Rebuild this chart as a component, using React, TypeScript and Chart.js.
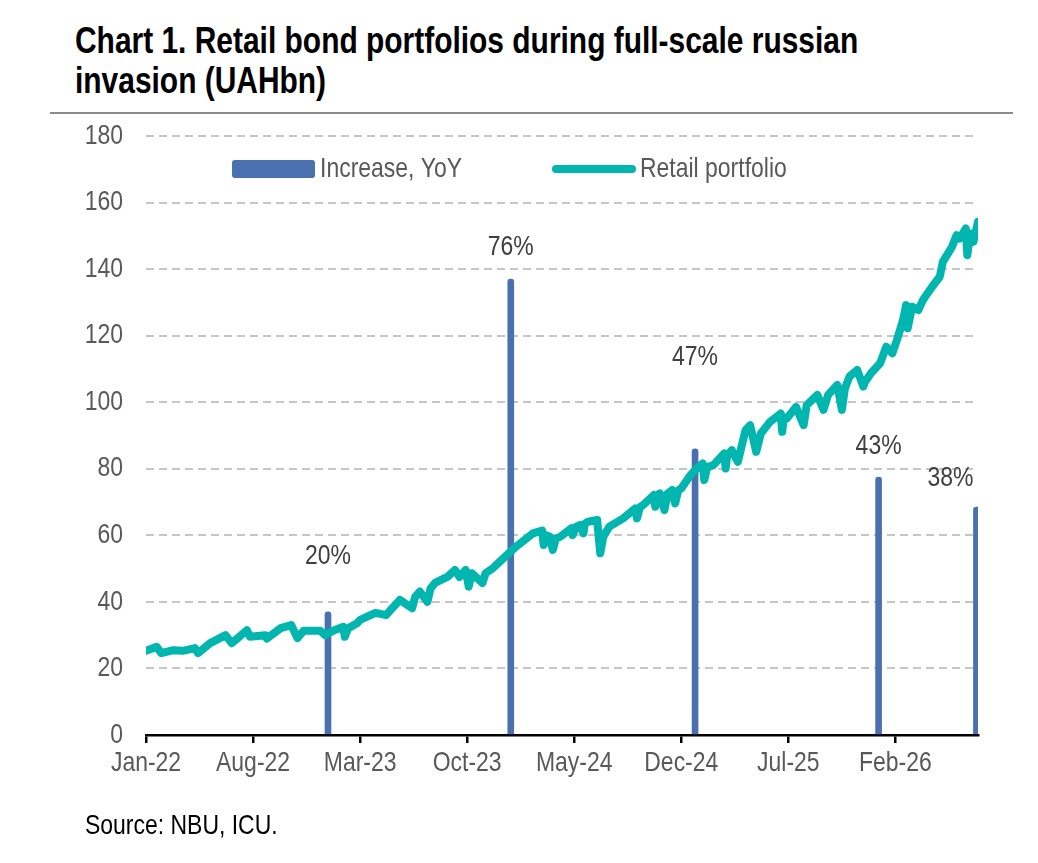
import React, { useEffect, useRef } from "react";
import { Chart, registerables } from "chart.js";

Chart.register(...registerables);

// ---------- data ----------
const xTickMonths = [0, 7, 14, 21, 28, 35, 42, 49];
const xTickLabels = ["Jan-22", "Aug-22", "Mar-23", "Oct-23", "May-24", "Dec-24", "Jul-25", "Feb-26"];

const barMonths = [11.9, 23.85, 35.9, 47.9, 54.3];
const barValues = [37, 137, 86, 77.5, 68.5];
const barLabels = ["20%", "76%", "47%", "43%", "38%"];

const lineMonths = [
  0.0, 0.7, 1.0, 1.8, 2.4, 3.2, 3.4, 4.2, 5.2, 5.6, 6.1, 6.6, 6.8, 7.8, 7.9, 8.8, 9.5, 9.9, 10.3, 11.4,
  11.7, 12.3, 12.9, 13.0, 13.2, 13.8, 14.0, 15.0, 15.7, 16.1, 16.6, 17.4, 17.6, 17.9, 18.4, 18.6, 18.9, 19.7,
  20.2, 20.5, 20.9, 21.1, 21.3, 22.0, 22.2, 22.7, 23.6, 24.2, 25.3, 25.9, 26.0, 26.2, 26.4, 26.6, 26.8, 27.1,
  27.8, 27.9, 28.1, 28.4, 28.6, 28.7, 28.9, 29.5, 29.7, 29.9, 30.3, 31.2, 32.0, 32.1, 32.3, 32.5, 33.2, 33.3,
  33.4, 33.6, 33.9, 34.1, 34.4, 34.6, 34.8, 35.0, 35.6, 35.9, 36.4, 36.5, 36.7, 37.1, 37.8, 37.9, 38.0, 38.3,
  38.7, 39.2, 39.5, 39.9, 40.2, 40.8, 41.5, 41.6, 41.7, 41.9, 42.5, 43.0, 43.2, 43.9, 44.3, 44.6, 45.2, 45.5,
  45.7, 46.0, 46.5, 46.9, 47.0, 47.4, 48.0, 48.4, 48.8, 49.1, 49.5, 49.7, 49.8, 50.1, 50.5, 50.8, 51.4, 51.9,
  52.1, 52.7, 53.0, 53.2, 53.6, 53.7, 53.9, 54.1, 54.4,
];
const lineValues = [
  25.3, 26.5, 24.6, 25.5, 25.3, 26.1, 24.6, 27.6, 30.0, 27.6, 29.5, 31.5, 29.5, 30.0, 29.0, 32.1, 33.0, 29.1, 31.3, 31.3,
  30.0, 31.5, 32.5, 29.5, 32.0, 33.6, 34.6, 36.7, 36.0, 38.1, 40.6, 38.1, 41.5, 43.1, 40.0, 44.0, 45.7, 47.5,
  49.6, 47.5, 49.6, 44.6, 48.6, 45.7, 48.6, 50.2, 54.1, 56.6, 60.6, 61.4, 57.1, 60.0, 59.6, 55.6, 59.0, 59.6,
  62.1, 60.1, 62.5, 63.1, 60.6, 63.5, 64.1, 64.6, 54.6, 59.6, 62.6, 65.1, 68.1, 65.1, 68.5, 69.1, 72.1, 68.6,
  72.0, 72.6, 67.6, 72.5, 73.6, 69.6, 73.5, 74.1, 78.1, 79.6, 81.6, 76.6, 80.5, 81.1, 84.6, 80.1, 84.0, 85.6,
  82.1, 91.6, 93.1, 85.1, 90.6, 94.1, 96.6, 91.1, 95.5, 95.1, 98.6, 93.1, 99.1, 102.2, 97.7, 102.2, 105.2, 97.7,
  104.2, 107.7, 109.7, 104.7, 106.0, 108.7, 111.7, 116.7, 114.7, 118.7, 124.7, 129.2, 122.2, 128.7, 127.7, 130.7, 134.7, 137.7,
  142.2, 146.7, 150.2, 149.2, 152.2, 144.2, 150.7, 148.2, 154.2,
];

// ---------- style ----------
const BAR_COLOR = "#4A70B0";
const LINE_COLOR = "#00B6AE";
const FONT_FAMILY = "'Liberation Sans', Arial, sans-serif";
const NARROW = 0.82;
const TEXT_GRAY = "#595959";
const labelOffsetsX = [0, 0, 0, 0, -26];
const labelOffsetsY = [-56, -32, -92, -31, -29];

function drawNarrow(
  ctx: CanvasRenderingContext2D,
  text: string,
  x: number,
  y: number,
  align: CanvasTextAlign,
  color: string,
  size = 28
) {
  ctx.save();
  ctx.translate(x, y);
  ctx.scale(NARROW, 1);
  ctx.font = `${size}px ${FONT_FAMILY}`;
  ctx.fillStyle = color;
  ctx.textAlign = align;
  ctx.textBaseline = "middle";
  ctx.fillText(text, 0, 0);
  ctx.restore();
}

const overlayPlugin = {
  id: "overlay",
  afterDraw(chart: any) {
    const ctx = chart.ctx as CanvasRenderingContext2D;
    ctx.save();
    // axis tick labels
    const xs = chart.scales.x;
    const ys = chart.scales.y;
    xs.ticks.forEach((t: any) => {
      const i = xTickMonths.indexOf(Number(t.value));
      if (i < 0) return;
      drawNarrow(ctx, xTickLabels[i], xs.getPixelForValue(t.value), xs.top + 28, "center", TEXT_GRAY);
    });
    ys.ticks.forEach((t: any) => {
      drawNarrow(ctx, String(t.value), ys.right - 23, ys.getPixelForValue(t.value), "right", TEXT_GRAY);
    });
    // percent labels
    const meta = chart.getDatasetMeta(1);
    meta.data.forEach((el: any, i: number) => {
      drawNarrow(ctx, barLabels[i], el.x + labelOffsetsX[i], el.y + labelOffsetsY[i], "center", "#404040");
    });
    // legend
    const ds = chart.data.datasets;
    ctx.fillStyle = BAR_COLOR;
    ctx.beginPath();
    (ctx as any).roundRect(232, 160, 83, 18, 3);
    ctx.fill();
    ctx.strokeStyle = LINE_COLOR;
    ctx.lineWidth = 8;
    ctx.lineCap = "round";
    ctx.beginPath();
    ctx.moveTo(556, 169);
    ctx.lineTo(632, 169);
    ctx.stroke();
    drawNarrow(ctx, ds[1].label, 320, 169, "left", TEXT_GRAY);
    drawNarrow(ctx, ds[0].label, 640, 169, "left", TEXT_GRAY);
    ctx.restore();
  },
};

export default function App() {
  const ref = useRef<HTMLCanvasElement | null>(null);
  useEffect(() => {
    if (!ref.current) return;
    const chart = new Chart(ref.current, {
      type: "bar",
      data: {
        datasets: [
          {
            type: "line",
            label: "Retail portfolio",
            data: lineMonths.map((m, i) => ({ x: m, y: lineValues[i] })),
            borderColor: LINE_COLOR,
            backgroundColor: LINE_COLOR,
            borderWidth: 8,
            pointRadius: 0,
            tension: 0,
            borderJoinStyle: "round",
            borderCapStyle: "round",
            order: 0,
          } as any,
          {
            type: "bar",
            label: "Increase, YoY",
            data: barMonths.map((m, i) => ({ x: m, y: barValues[i] })),
            backgroundColor: BAR_COLOR,
            barThickness: 6,
            borderRadius: 3,
            borderSkipped: "bottom",
            order: 1,
          } as any,
        ],
      },
      options: {
        animation: false,
        responsive: false,
        devicePixelRatio: 1,
        layout: { padding: { left: 46, right: 60, top: 136, bottom: 88 } },
        plugins: { legend: { display: false }, tooltip: { enabled: false }, title: { display: false } },
        scales: {
          x: {
            type: "linear",
            min: 0,
            max: 54.4,
            offset: false,
            afterBuildTicks: (scale: any) => {
              scale.ticks = xTickMonths.map((v) => ({ value: v }));
            },
            afterFit: (scale: any) => {
              scale.height = 40;
            },
            grid: {
              display: true,
              drawOnChartArea: false,
              drawTicks: true,
              tickLength: 8,
              color: "#000000",
              lineWidth: 2.5,
              offset: false,
            },
            border: { display: true, color: "#000000", width: 2.5 },
            ticks: { display: false, autoSkip: false, maxRotation: 0 },
          },
          y: {
            min: 0,
            max: 180,
            afterFit: (scale: any) => {
              scale.width = 100;
            },
            grid: { color: "#C6C6C6", lineWidth: 2, drawTicks: false },
            border: { display: false, dash: [8, 5] },
            ticks: { display: false, stepSize: 20 },
          },
        },
      },
      plugins: [overlayPlugin],
    });
    return () => chart.destroy();
  }, []);

  const narrowStyle: React.CSSProperties = {
    position: "absolute",
    fontFamily: FONT_FAMILY,
    whiteSpace: "nowrap",
    transform: `scaleX(${NARROW})`,
    transformOrigin: "left top",
    color: "#000",
  };

  return (
    <div style={{ position: "absolute", left: 0, top: 0, width: 1038, height: 863, background: "#fff" }}>
      <div style={{ ...narrowStyle, left: 75, top: 21, fontWeight: "bold", fontSize: 36.5, lineHeight: "40px" }}>
        Chart 1. Retail bond portfolios during full-scale russian
        <br />
        invasion (UAHbn)
      </div>
      <div style={{ position: "absolute", left: 50, top: 112, width: 963, height: 2, background: "#8C8C8C" }} />
      <canvas ref={ref} width={1038} height={863} style={{ position: "absolute", left: 0, top: 0, width: 1038, height: 863 }} />
      <div style={{ ...narrowStyle, left: 85, top: 810, fontSize: 28, lineHeight: "30px" }}>Source: NBU, ICU.</div>
    </div>
  );
}
